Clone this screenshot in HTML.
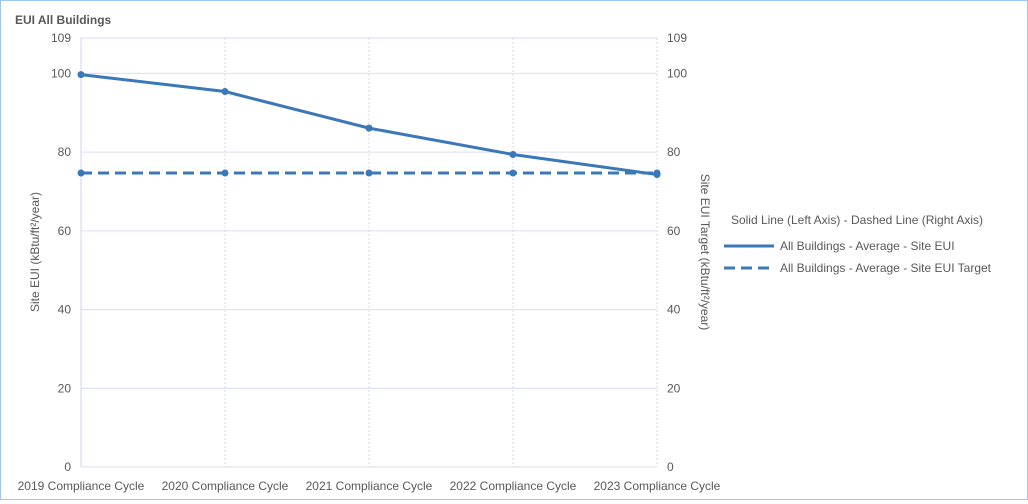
<!DOCTYPE html>
<html><head><meta charset="utf-8"><style>
body{margin:0;background:#fff;font-family:"Liberation Sans",sans-serif;}
#wrap{position:relative;width:1026px;height:498px;border:1px solid #9ec5f8;}
svg text{font-family:"Liberation Sans",sans-serif;}
</style></head><body>
<div id="wrap">
<svg id="chart" width="1026" height="498">
<text x="14" y="23" font-size="12" font-weight="bold" fill="#595959">EUI All Buildings</text>
<g id="grid"></g><g id="axes"></g><g id="series"></g>
<text transform="translate(38,251) rotate(-90)" text-anchor="middle" font-size="12" fill="#595959">Site EUI (kBtu/ft²/year)</text>
<text transform="translate(700,251) rotate(90)" text-anchor="middle" font-size="12" fill="#595959">Site EUI Target (kBtu/ft²/year)</text>
<g>
<text x="856" y="223" text-anchor="middle" font-size="12" fill="#595959">Solid Line (Left Axis) - Dashed Line (Right Axis)</text>
<g><line x1="723" y1="245" x2="773" y2="245" stroke="#3a78b8" stroke-width="3"/><text x="779" y="249" font-size="12" fill="#595959">All Buildings - Average - Site EUI</text></g>
<g><line x1="723" y1="267" x2="773" y2="267" stroke="#3a78b8" stroke-width="3" stroke-dasharray="11,6"/><text x="779" y="271" font-size="12" fill="#595959">All Buildings - Average - Site EUI Target</text></g>
</g>
</svg></div>
<script>
const categories=["2019 Compliance Cycle","2020 Compliance Cycle","2021 Compliance Cycle","2022 Compliance Cycle","2023 Compliance Cycle"];
const siteEUI=[99.7,95.4,86.1,79.4,74.3];
const siteEUITarget=[74.7,74.7,74.7,74.7,74.7];
const yTicks=[0,20,40,60,80,100,109];
const NS="http://www.w3.org/2000/svg";
const X0=80,X1=656,Y0=466,Y1=37,YMAX=109;
const x=i=>X0+i*(X1-X0)/(categories.length-1);
const y=v=>Y0-v*(Y0-Y1)/YMAX;
function mk(tag,attrs,parent){const e=document.createElementNS(NS,tag);for(const k in attrs)e.setAttribute(k,attrs[k]);parent.appendChild(e);return e;}
const grid=document.getElementById('grid'),axes=document.getElementById('axes'),ser=document.getElementById('series');
yTicks.forEach(t=>{
  const g=mk('line',{x1:X0,x2:X1,y1:y(t),y2:y(t),stroke:'#dcdcf5','stroke-width':1},grid);
  
  
  const a=mk('text',{x:X0-10,y:y(t)+4,'text-anchor':'end','font-size':12,fill:'#595959'},axes);a.textContent=t;
  
  
  const b=mk('text',{x:X1+10,y:y(t)+4,'font-size':12,fill:'#595959'},axes);b.textContent=t;
  
  
});
categories.forEach((c,i)=>{
  const g=mk('line',{x1:x(i),x2:x(i),y1:Y1,y2:Y0,stroke:'#d8d8f0','stroke-dasharray':'2,2'},grid);
  
  
  const t=mk('text',{x:x(i),y:Y0+23,'text-anchor':'middle','font-size':12,fill:'#595959'},axes);t.textContent=c;
  
  
});
const la=mk('line',{x1:X0,x2:X0,y1:Y1,y2:Y0,stroke:'#d0d0ee'},axes);


function draw(vals,dash,name){
  const p=mk('polyline',{points:vals.map((v,i)=>x(i)+','+y(v)).join(' '),fill:'none',stroke:'#3a78b8','stroke-width':3},ser);
  if(dash)p.setAttribute('stroke-dasharray','11,6');
  
  
  vals.forEach((v,i)=>{const c=mk('circle',{cx:x(i),cy:y(v),r:3.5,fill:'#3a78b8'},ser);
    
    });
}
draw(siteEUITarget,true,'site-eui-target');
draw(siteEUI,false,'site-eui');
</script>
</body></html>
